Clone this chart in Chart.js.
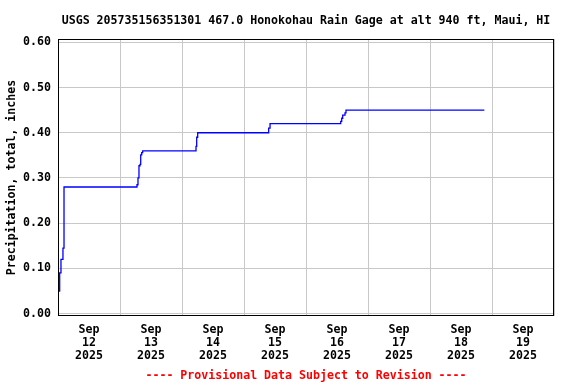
<!DOCTYPE html>
<html>
<head>
<meta charset="utf-8">
<script src="https://cdn.jsdelivr.net/npm/chart.js@4.4.1/dist/chart.umd.min.js"></script>
<style>
html,body{margin:0;padding:0;background:#fff;}
#wrap{width:576px;height:384px;}
</style>
</head>
<body>
<div id="wrap"><canvas id="c" width="576" height="384"></canvas></div>
<script>
// ---- data ----
const chartTitle = 'USGS 205735156351301 467.0 Honokohau Rain Gage at alt 940 ft, Maui, HI';
const yAxisTitle = 'Precipitation, total, inches';
const footerText = '---- Provisional Data Subject to Revision ----';
// days since Sep 12 2025 00:00
const dayOffsets = [0.01, 0.027, 0.048, 0.08, 0.097, 1.274, 1.29, 1.306, 1.323, 1.334, 1.35, 1.366, 2.226, 2.237, 2.253, 3.398, 3.42, 4.56, 4.576, 4.592, 4.629, 4.645, 6.877];
const precipInches = [0.05, 0.09, 0.12, 0.145, 0.28, 0.285, 0.30, 0.327, 0.33, 0.351, 0.356, 0.36, 0.37, 0.39, 0.40, 0.41, 0.42, 0.425, 0.432, 0.439, 0.444, 0.45, 0.45];
const tickMonths = ['Sep','Sep','Sep','Sep','Sep','Sep','Sep','Sep'];
const tickDays = ['12','13','14','15','16','17','18','19'];
const tickYears = ['2025','2025','2025','2025','2025','2025','2025','2025'];
const yTicks = [0, 0.1, 0.2, 0.3, 0.4, 0.5, 0.6];

const FONT = '"DejaVu Sans Mono", "Liberation Mono", monospace';
const points = dayOffsets.map((d, i) => ({x: d, y: precipInches[i]}));

const frame = {
  id: 'frame',
  afterDatasetsDraw(chart) {
    const a = chart.chartArea, ctx = chart.ctx;
    ctx.save();
    ctx.strokeStyle = '#000';
    ctx.lineWidth = 1;
    ctx.strokeRect(Math.round(a.left) + 0.5, Math.round(a.top) + 0.5,
                   Math.round(a.right - a.left) - 1, Math.round(a.bottom - a.top) - 1);
    ctx.restore();
  }
};

new Chart(document.getElementById('c'), {
  type: 'line',
  data: {
    datasets: [{
      data: points,
      borderColor: '#0000ff',
      borderWidth: 1.3,
      pointRadius: 0,
      stepped: 'before',
      fill: false,
      tension: 0
    }]
  },
  options: {
    responsive: false,
    animation: false,
    layout: { padding: { left: 0, right: 22, top: 0, bottom: 0 } },
    plugins: {
      legend: { display: false },
      tooltip: { enabled: false },
      title: {
        display: true,
        text: chartTitle,
        fullSize: false,
        color: '#000',
        font: { family: FONT, size: 11.6, weight: 'bold', lineHeight: 1.2 },
        padding: { top: 14, bottom: 11 }
      },
      subtitle: {
        display: true,
        position: 'bottom',
        text: footerText,
        fullSize: false,
        color: '#ff0000',
        font: { family: FONT, size: 11.6, weight: 'bold', lineHeight: 1.2 },
        padding: { top: 7, bottom: 1 }
      }
    },
    scales: {
      x: {
        type: 'linear',
        min: 0,
        max: tickDays.length,
        border: { display: false },
        afterBuildTicks(scale) {
          const t = [];
          for (let i = 0; i <= tickDays.length * 2; i++) t.push({ value: i / 2 });
          scale.ticks = t;
        },
        afterFit(scale) { scale.height = 46; },
        grid: {
          drawTicks: false,
          tickLength: 0,
          lineWidth: 1,
          color: (ctx) => (ctx.tick && Math.abs(ctx.tick.value % 1) < 1e-9) ? '#c8c8c8' : 'rgba(0,0,0,0)'
        },
        ticks: {
          autoSkip: false,
          maxRotation: 0,
          minRotation: 0,
          padding: 7,
          color: '#000',
          font: { family: FONT, size: 11.6, weight: 'bold', lineHeight: 1.12 },
          callback(v) {
            if (Math.abs(v % 1 - 0.5) > 1e-9) return '';
            const i = Math.floor(v);
            return [tickMonths[i], tickDays[i], tickYears[i]];
          }
        }
      },
      y: {
        type: 'linear',
        min: -0.0055,
        max: 0.6075,
        border: { display: false },
        afterBuildTicks(scale) { scale.ticks = yTicks.map(v => ({ value: v })); },
        afterFit(scale) { scale.width = 58; },
        grid: { drawTicks: false, tickLength: 0, color: '#c8c8c8', lineWidth: 1 },
        ticks: {
          padding: 7,
          color: '#000',
          font: { family: FONT, size: 11.6, weight: 'bold' },
          callback: (v) => Number(v).toFixed(2)
        },
        title: {
          display: true,
          text: yAxisTitle,
          color: '#000',
          font: { family: FONT, size: 11.6, weight: 'bold', lineHeight: 1.2 },
          padding: { top: 5, bottom: 0 }
        }
      }
    }
  },
  plugins: [frame]
});
</script>
</body>
</html>
